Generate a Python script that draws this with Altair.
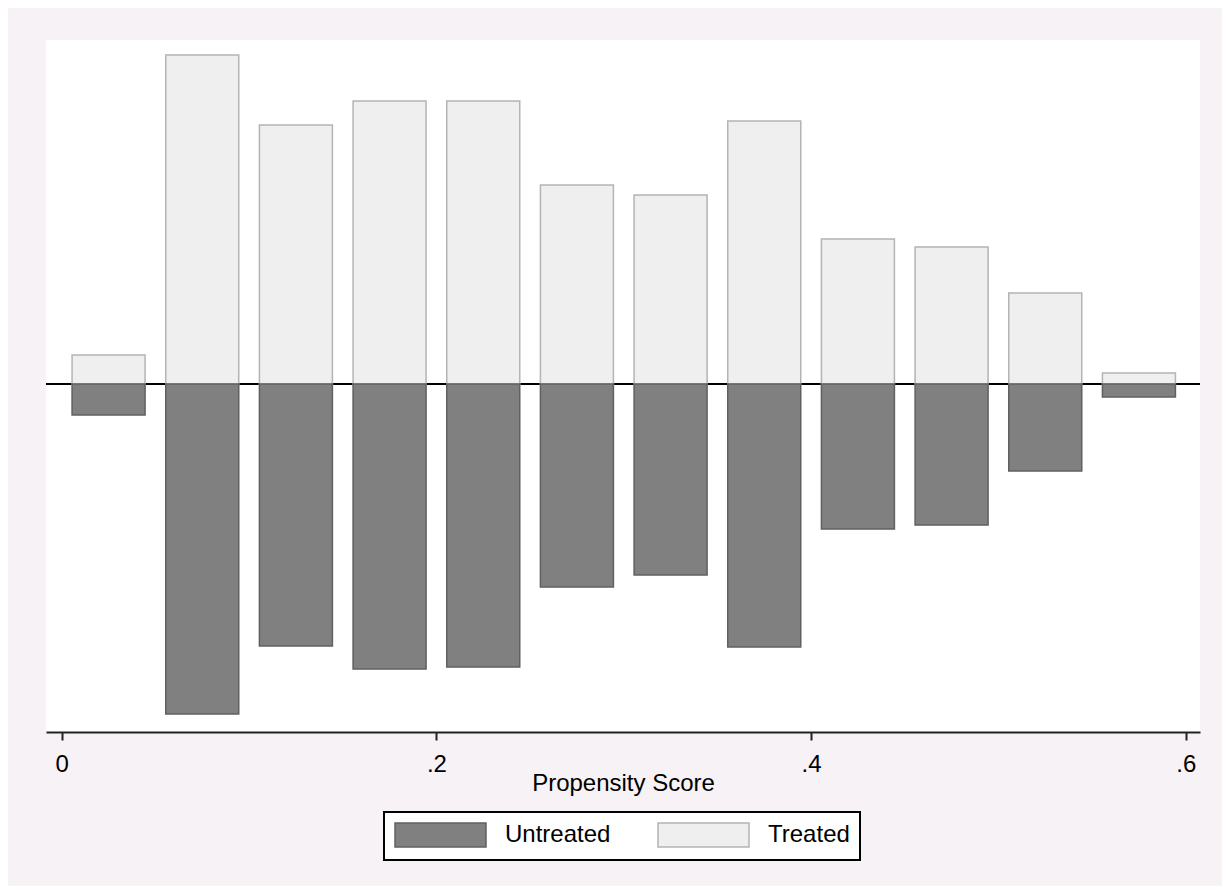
import altair as alt
import pandas as pd

# bin midpoints of propensity score
bin_mid = [0.025, 0.075, 0.125, 0.175, 0.225, 0.275, 0.325, 0.375, 0.425, 0.475, 0.525, 0.575]
# frequencies (arbitrary units)
treated = [29, 329, 259, 283, 283, 199, 189, 263, 145, 137, 91, 11]
untreated = [31, 330, 262, 285, 283, 203, 191, 263, 145, 141, 87, 13]

groups = ["Untreated", "Treated"]
fills = ["#808080", "#EFEFEF"]
strokes = ["#606060", "#B4B4B4"]

rows = []
for m, t, u in zip(bin_mid, treated, untreated):
    rows.append({"ps": m, "freq": t, "group": "Treated"})
    rows.append({"ps": m, "freq": -u, "group": "Untreated"})
df = pd.DataFrame(rows)

FONT = "Liberation Sans"

x_scale = alt.Scale(domain=[-0.0084, 0.6076], nice=False, zero=False, padding=0)
y_scale = alt.Scale(domain=[-348, 344], nice=False, zero=False, padding=0)

zero = alt.Chart(pd.DataFrame({"y": [0]})).mark_rule(color="black", strokeWidth=1.8).encode(
    y=alt.Y("y:Q", scale=y_scale, axis=None)
)

# wide rectangular swatch: 24px tall, 91px wide, left edge at entry start
swatch = "M-1,-1H6.583V1H-1Z"

legend_kw = dict(
    title=None,
    orient="none",
    legendX=338,
    legendY=772,
    direction="horizontal",
    symbolType=swatch,
    symbolSize=576,
    symbolStrokeWidth=1.5,
    symbolOpacity=1,
    labelFont=FONT,
    labelFontSize=24,
    labelColor="black",
    labelOffset=85,
    columnPadding=44,
    padding=10,
    fillColor="white",
    strokeColor="black",
)

bars = alt.Chart(df).mark_bar(width=73, strokeWidth=1.5).encode(
    x=alt.X(
        "ps:Q",
        scale=x_scale,
        title="Propensity Score",
        axis=alt.Axis(
            values=[0, 0.2, 0.4, 0.6],
            labelExpr="datum.value == 0 ? '0' : replace(format(datum.value, '.1f'), '0.', '.')",
            grid=False,
            domainColor="#222222",
            domainWidth=2,
            tickColor="#222222",
            tickWidth=2,
            tickSize=8,
            labelFont=FONT,
            labelFontSize=24,
            labelColor="black",
            labelPadding=12,
            titleFont=FONT,
            titleFontSize=24,
            titleFontWeight="normal",
            titleColor="black",
            titleBaseline="alphabetic",
            titleY=58,
        ),
    ),
    y=alt.Y(
        "freq:Q",
        scale=y_scale,
        axis=alt.Axis(
            title=None,
            labels=False,
            ticks=False,
            grid=False,
            domainColor="#222222",
            domainWidth=2,
        ),
    ),
    fill=alt.Fill(
        "group:N",
        scale=alt.Scale(domain=groups, range=fills),
        legend=alt.Legend(**legend_kw),
    ),
    stroke=alt.Stroke(
        "group:N",
        scale=alt.Scale(domain=groups, range=strokes),
        legend=alt.Legend(**legend_kw),
    ),
)

chart = (
    alt.layer(zero, bars)
    .properties(
        width=1154,
        height=692,
        autosize=alt.AutoSizeParams(type="none"),
        padding={"left": 38, "top": 32, "right": 22, "bottom": 154},
        background="#F6F2F6",
    )
    .configure_view(fill="white", stroke=None)
    .configure_legend(strokeWidth=2)
)

chart.save("out.html", embed_options={"renderer": "svg", "actions": False})
